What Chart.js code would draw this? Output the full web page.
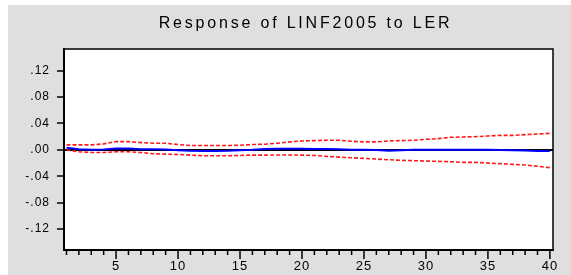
<!DOCTYPE html>
<html>
<head>
<meta charset="utf-8">
<script src="https://cdn.jsdelivr.net/npm/chart.js@4.4.1/dist/chart.umd.min.js"></script>
<style>
	html, body { margin: 0; padding: 0; background: #fff; }
	#wrap { position: relative; width: 571px; height: 275px; }
	#bg { position: absolute; left: 8px; top: 5px; right: 0; bottom: 0; background: #dfdfdf; }
	canvas { position: absolute; left: 0; top: 0; }
</style>
</head>
<body>
<div id="wrap"><div id="bg"></div><canvas id="irfChart" width="571" height="275"></canvas></div>
<script>
// Datos
const chartTitle = 'Response of LINF2005 to LER';
const periods = [1, 2, 3, 4, 5, 6, 7, 8, 9, 10, 11, 12, 13, 14, 15, 16, 17, 18, 19, 20,
	21, 22, 23, 24, 25, 26, 27, 28, 29, 30, 31, 32, 33, 34, 35, 36, 37, 38, 39, 40];
const response = [0.003, 0.001, 0.0, 0.0005, 0.002, 0.002, 0.001, 0.0008, 0.0005, -0.0005,
	-0.0015, -0.0018, -0.0018, -0.0015, -0.0005, 0.0, 0.0012, 0.0015, 0.0015, 0.0015,
	0.0014, 0.0012, 0.001, 0.0002, 0.0, -0.0003, -0.0015, -0.0005, 0.0, 0.0,
	0.0, 0.0, 0.0, 0.0, 0.0, -0.0002, -0.0005, -0.0012, -0.0018, -0.0018];
const upperBand = [0.0075, 0.0075, 0.0075, 0.009, 0.0125, 0.0125, 0.011, 0.01, 0.01, 0.008,
	0.0065, 0.0065, 0.0065, 0.0065, 0.007, 0.008, 0.0085, 0.01, 0.012, 0.0135,
	0.014, 0.0145, 0.0145, 0.013, 0.012, 0.012, 0.0135, 0.014, 0.0145, 0.016,
	0.017, 0.019, 0.0195, 0.02, 0.021, 0.022, 0.022, 0.023, 0.024, 0.025];
const lowerBand = [0.0, -0.003, -0.004, -0.004, -0.003, -0.003, -0.004, -0.006, -0.0065, -0.007,
	-0.008, -0.009, -0.009, -0.009, -0.0085, -0.008, -0.008, -0.0078, -0.0078, -0.008,
	-0.0085, -0.01, -0.011, -0.012, -0.013, -0.014, -0.015, -0.016, -0.0165, -0.017,
	-0.0175, -0.018, -0.019, -0.019, -0.02, -0.021, -0.022, -0.023, -0.025, -0.027];
const yTicks = [-0.12, -0.08, -0.04, 0, 0.04, 0.08, 0.12];
const xLabels = [5, 10, 15, 20, 25, 30, 35, 40];

Chart.defaults.font.family = '"Liberation Sans", Arial, sans-serif';

const toPoints = (vals) => periods.map((p, i) => ({ x: p, y: vals[i] }));

// formato tipo EViews: .12, -.04
const fmtY = (v) => (v < 0 ? '-' : '') + Math.abs(v).toFixed(2).replace(/^0/, '');

const framePlugin = {
	id: 'frame',
	beforeLayout(chart) {
		chart.ctx.letterSpacing = '1px';
	},
	beforeDraw(chart) {
		const { ctx, chartArea: a } = chart;
		ctx.letterSpacing = '1px';
		ctx.save();
		ctx.fillStyle = '#fff';
		ctx.fillRect(a.left, a.top, a.right - a.left, a.bottom - a.top);
		ctx.restore();
	},
	afterDraw(chart) {
		const { ctx, chartArea: a, scales } = chart;
		ctx.save();
		ctx.strokeStyle = '#000';
		ctx.lineWidth = 1.5;
		ctx.strokeRect(a.left, a.top, a.right - a.left, a.bottom - a.top);
		// marcas del eje X (cortas cada periodo, largas cada 5)
		periods.forEach((p) => {
			const px = scales.x.getPixelForValue(p);
			ctx.beginPath();
			ctx.moveTo(px, a.bottom);
			ctx.lineTo(px, a.bottom + (p % 5 === 0 ? 9 : 5));
			ctx.stroke();
		});
		// titulo
		ctx.font = '16px "Liberation Sans", Arial, sans-serif';
		ctx.letterSpacing = '2.8px';
		ctx.fillStyle = '#000';
		ctx.textAlign = 'center';
		ctx.textBaseline = 'middle';
		ctx.fillText(chartTitle, (a.left + a.right) / 2 - 3, a.top - 25);
		ctx.restore();
	},
};

new Chart(document.getElementById('irfChart'), {
	type: 'line',
	data: {
		datasets: [
			{
				data: toPoints(response),
				borderColor: '#0000ff',
				borderWidth: 2,
				pointRadius: 0,
			},
			{
				data: toPoints(upperBand),
				borderColor: '#ff1a1a',
				borderWidth: 1.6,
				borderDash: [4, 2],
				pointRadius: 0,
			},
			{
				data: toPoints(lowerBand),
				borderColor: '#ff1a1a',
				borderWidth: 1.6,
				borderDash: [4, 2],
				pointRadius: 0,
			},
		],
	},
	options: {
		responsive: false,
		animation: false,
		layout: { padding: { top: 49, right: 18, left: 0, bottom: 0 } },
		plugins: {
			legend: { display: false },
			tooltip: { enabled: false },
		},
		scales: {
			x: {
				type: 'linear',
				min: 0.8,
				max: 40.25,
				afterBuildTicks: (s) => { s.ticks = xLabels.map((v) => ({ value: v })); },
				afterFit: (s) => { s.height = 25; },
				grid: { display: false, drawTicks: false },
				border: { display: true, color: '#000', width: 2 },
				ticks: {
					color: '#000',
					font: { size: 13 },
					padding: 9,
					maxRotation: 0,
					autoSkip: false,
					callback: (v) => String(v),
				},
			},
			y: {
				min: -0.152,
				max: 0.153,
				afterBuildTicks: (s) => { s.ticks = yTicks.map((v) => ({ value: v })); },
				afterFit: (s) => { s.width = 64; },
				grid: {
					color: (c) => (c.tick && c.tick.value === 0 ? '#000' : 'rgba(0,0,0,0)'),
					lineWidth: 2,
					tickLength: 7,
					tickColor: '#000',
					tickWidth: 1.5,
				},
				border: { color: '#000', width: 2 },
				ticks: {
					color: '#000',
					font: { size: 12 },
					padding: 7,
					callback: (v) => fmtY(v),
				},
			},
		},
	},
	plugins: [framePlugin],
});
</script>
</body>
</html>
